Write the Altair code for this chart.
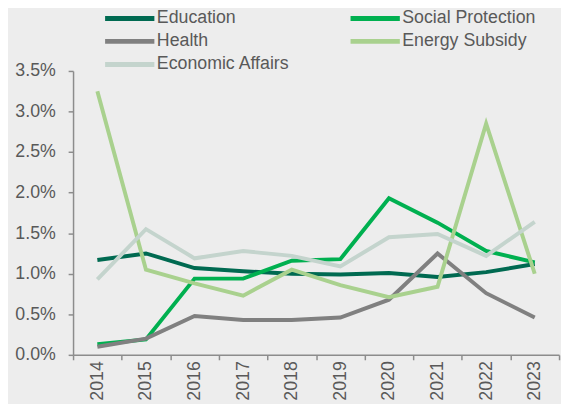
import altair as alt
import pandas as pd

years = ["2014", "2015", "2016", "2017", "2018", "2019", "2020", "2021", "2022", "2023"]
series = ["Education", "Social Protection", "Health", "Energy Subsidy", "Economic Affairs"]
colors = ["#006A51", "#00B050", "#808080", "#A9D18E", "#C4D4CD"]
# legend laid out column by column: left column, then right column
legend_order = ["Education", "Health", "Economic Affairs", "Social Protection", "Energy Subsidy"]

education = [1.17, 1.25, 1.07, 1.03, 1.00, 0.99, 1.01, 0.96, 1.02, 1.12]
social_protection = [0.13, 0.19, 0.94, 0.94, 1.16, 1.18, 1.93, 1.63, 1.28, 1.14]
health = [0.10, 0.20, 0.48, 0.43, 0.43, 0.46, 0.68, 1.25, 0.76, 0.46]
energy_subsidy = [3.25, 1.05, 0.88, 0.73, 1.05, 0.86, 0.71, 0.84, 2.85, 1.00]
economic_affairs = [0.93, 1.55, 1.19, 1.28, 1.22, 1.09, 1.45, 1.49, 1.22, 1.64]

values = [education, social_protection, health, energy_subsidy, economic_affairs]
rows = []
for name, vals in zip(series, values):
    for y, v in zip(years, vals):
        rows.append({"year": y, "series": name, "value": v / 100.0})
df = pd.DataFrame(rows)

color_map = dict(zip(series, colors))
legend_colors = [color_map[s] for s in legend_order]

text_color = "#595959"
axis_color = "#8C8C8C"
font = "Liberation Sans"

chart = alt.Chart(df).mark_line(strokeWidth=4, strokeJoin="miter").encode(
    x=alt.X(
        "year:O",
        sort=years,
        bandPosition=0.5,
        scale=alt.Scale(type="band", paddingInner=0, paddingOuter=0),
        axis=alt.Axis(
            title=None,
            labelAngle=-90,
            labelFontSize=18,
            labelColor=text_color,
            labelFont=font,
            labelPadding=1,
            tickBand="extent",
            tickSize=5,
            tickColor=axis_color,
            domainColor=axis_color,
            tickWidth=1.5,
            domainWidth=1.5,
        ),
    ),
    y=alt.Y(
        "value:Q",
        scale=alt.Scale(domain=[0, 0.035], nice=False),
        axis=alt.Axis(
            title=None,
            format=".1%",
            values=[0, 0.005, 0.01, 0.015, 0.02, 0.025, 0.03, 0.035],
            grid=False,
            labelFontSize=18,
            labelColor=text_color,
            labelFont=font,
            labelPadding=13,
            tickSize=5,
            tickColor=axis_color,
            domainColor=axis_color,
            tickWidth=1.5,
            domainWidth=1.5,
        ),
    ),
    color=alt.Color(
        "series:N",
        sort=legend_order,
        scale=alt.Scale(domain=legend_order, range=legend_colors),
        legend=alt.Legend(
            title=None,
            orient="none",
            legendX=45,
            legendY=-66,
            columns=2,
            columnPadding=51,
            rowPadding=0.5,
            symbolType="M-2.5,0H2.5",
            symbolSize=400,
            symbolStrokeWidth=5,
            labelFontSize=18,
            labelFont=font,
            labelColor=text_color,
            labelOffset=15,
            labelLimit=300,
            padding=0,
        ),
    ),
).properties(
    width=493,
    height=288,
    background="#EDEDED",
    padding={"left": 66, "top": 61, "right": 2, "bottom": 47},
    autosize=alt.AutoSizeParams(type="none"),
).configure_view(stroke=None)

chart.save("out.html", embed_options={"renderer": "svg", "actions": False})
